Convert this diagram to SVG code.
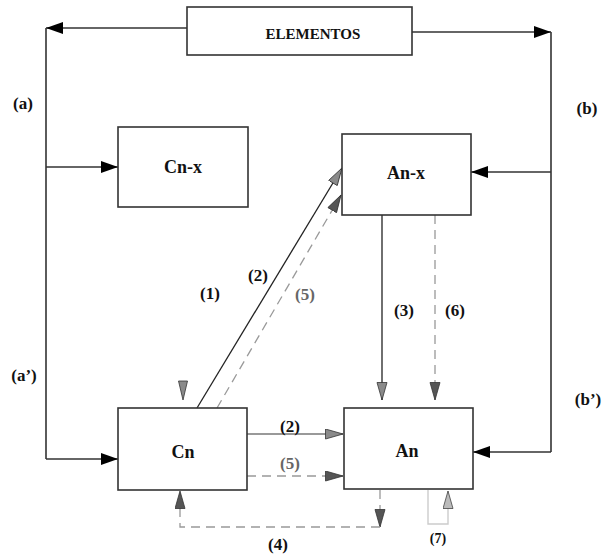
<svg xmlns="http://www.w3.org/2000/svg" width="602" height="555" viewBox="0 0 602 555">
<style>
.box{fill:#fff;stroke:#333;stroke-width:1.6}
.t{font-family:"Liberation Serif","Times New Roman",serif;font-weight:bold;fill:#111;text-anchor:middle}
.lbl{font-size:17px}
.g{fill:#666}
.blk{fill:none;stroke:#333;stroke-width:1.6}
.sol{fill:none;stroke:#222;stroke-width:1.3}
.solg{fill:none;stroke:#777;stroke-width:1.3}
.dash{fill:none;stroke:#999;stroke-width:1.3;stroke-dasharray:9,6}
.lt{fill:none;stroke:#ccc;stroke-width:1.4}
</style>
<defs>
<marker id="mB" markerUnits="userSpaceOnUse" markerWidth="18" markerHeight="13" refX="17" refY="6" orient="auto"><path d="M0,0 L17,6 L0,12 z" fill="#000"/></marker>
<marker id="mG" markerUnits="userSpaceOnUse" markerWidth="20" markerHeight="12" refX="18" refY="5.5" orient="auto"><path d="M0.5,0.5 L18,5.5 L0.5,10.5 z" fill="#8a8a8a" stroke="#333" stroke-width="0.8"/></marker>
<marker id="mD" markerUnits="userSpaceOnUse" markerWidth="20" markerHeight="12" refX="18" refY="5.5" orient="auto"><path d="M0.5,0.5 L18,5.5 L0.5,10.5 z" fill="#555" stroke="#333" stroke-width="0.8"/></marker>
<marker id="mL" markerUnits="userSpaceOnUse" markerWidth="20" markerHeight="12" refX="18" refY="5.5" orient="auto"><path d="M0.5,0.5 L18,5.5 L0.5,10.5 z" fill="#bbb" stroke="#444" stroke-width="0.8"/></marker>
</defs>

<g id="connectors">
  <!-- outer loops -->
  <path class="blk" d="M187,28 H46" marker-end="url(#mB)"/>
  <path class="blk" d="M46,28 V459"/>
  <path class="blk" d="M46,167 H118" marker-end="url(#mB)"/>
  <path class="blk" d="M46,459 H118" marker-end="url(#mB)"/>
  <path class="blk" d="M412,32 H551" marker-end="url(#mB)"/>
  <path class="blk" d="M551,32 V452"/>
  <path class="blk" d="M551,172 H471" marker-end="url(#mB)"/>
  <path class="blk" d="M551,452 H473" marker-end="url(#mB)"/>
  <!-- diagonals -->
  <path class="sol" d="M197,408 L342,168" marker-end="url(#mG)"/>
  <path class="dash" d="M217,408 L341,195" marker-end="url(#mD)"/>
  <!-- verticals An-x to An -->
  <path class="sol" d="M382,215 V400" marker-end="url(#mG)"/>
  <path class="dash" d="M435,215 V400" marker-end="url(#mD)"/>
  <!-- Cn to An -->
  <path class="solg" d="M247,434 H343" marker-end="url(#mG)"/>
  <path class="dash" d="M247,476 H343" marker-end="url(#mD)"/>
  <!-- small arrow into Cn top -->
  <polygon points="178.5,381 187.5,381 183,400" fill="#8a8a8a" stroke="#333" stroke-width="0.8"/>
  <!-- (4) loop -->
  <path class="dash" d="M380,490 V527"  marker-end="url(#mD)"/>
  <path class="dash" d="M380,527 H180 V491" marker-end="url(#mD)"/>
  <!-- (7) loop -->
  <path class="lt" d="M428,490 V524 H448 V491" marker-end="url(#mL)"/>
</g>

<g id="elementos">
  <rect class="box" x="187" y="7" width="225" height="48"/>
  <text class="t" x="313" y="39" font-size="15">ELEMENTOS</text>
</g>
<g id="cnx">
  <rect class="box" x="118" y="127" width="130" height="80"/>
  <text class="t" x="183" y="173" font-size="18">Cn-x</text>
</g>
<g id="anx">
  <rect class="box" x="342" y="134" width="129" height="81"/>
  <text class="t" x="406" y="179" font-size="18">An-x</text>
</g>
<g id="cn">
  <rect class="box" x="118" y="408" width="129" height="82"/>
  <text class="t" x="183" y="458" font-size="18">Cn</text>
</g>
<g id="an">
  <rect class="box" x="344" y="408" width="129" height="81"/>
  <text class="t" x="407" y="457" font-size="18">An</text>
</g>

<g id="labels">
  <text class="t lbl" x="23" y="109">(a)</text>
  <text class="t lbl" x="587" y="114">(b)</text>
  <text class="t lbl" x="24" y="381">(a’)</text>
  <text class="t lbl" x="588" y="405">(b’)</text>
  <text class="t lbl" x="210" y="299">(1)</text>
  <text class="t lbl" x="258" y="281">(2)</text>
  <text class="t lbl g" x="305" y="300">(5)</text>
  <text class="t lbl" x="404" y="316">(3)</text>
  <text class="t lbl" x="455" y="316">(6)</text>
  <text class="t lbl" x="290" y="432">(2)</text>
  <text class="t lbl g" x="290" y="469">(5)</text>
  <text class="t lbl" x="278" y="550">(4)</text>
  <text class="t" x="438" y="543" font-size="14" font-weight="normal">(7)</text>
</g>
</svg>
